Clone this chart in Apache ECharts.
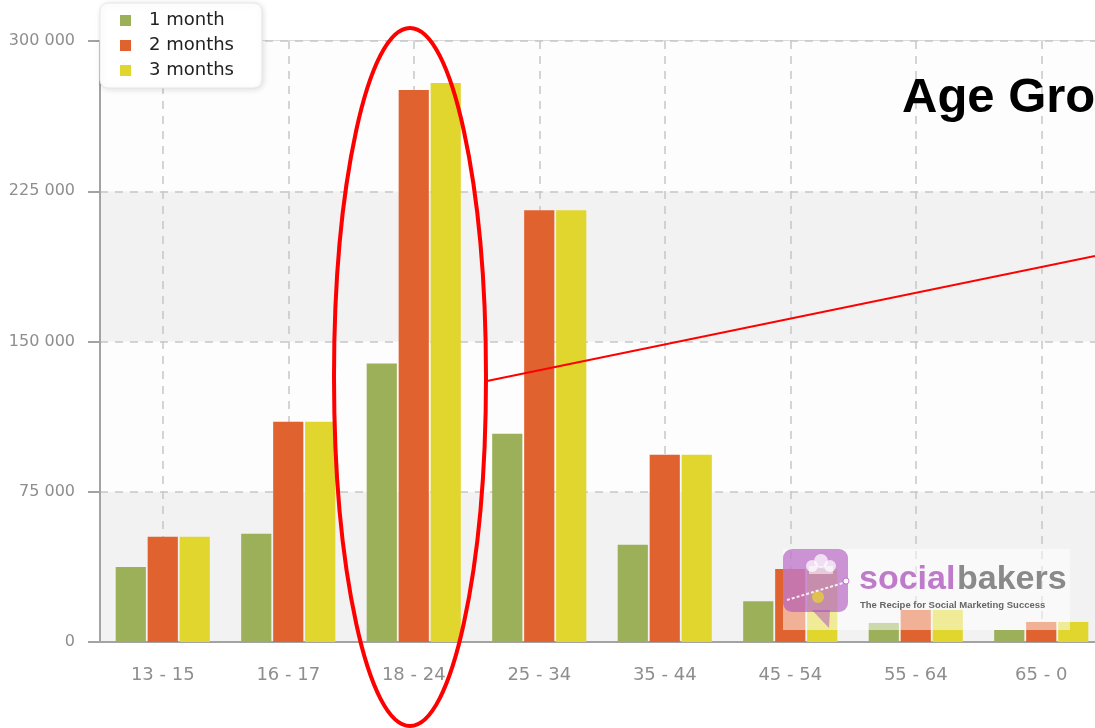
<!DOCTYPE html>
<html>
<head>
<meta charset="utf-8">
<script src="https://cdn.jsdelivr.net/npm/echarts@6/dist/echarts.min.js"></script>
<style>
  html, body { margin: 0; padding: 0; background: #fff; overflow: hidden; }
  #main { width: 1095px; height: 728px; }
</style>
</head>
<body>
<div id="main"></div>
<script>
var chartDom = document.getElementById('main');
var myChart = echarts.init(chartDom);
var option;

const ageGroups = ['13 - 15', '16 - 17', '18 - 24', '25 - 34', '35 - 44', '45 - 54', '55 - 64', '65 - 0'];
const oneMonth = [37500, 54000, 139000, 104000, 48500, 20300, 9500, 6000];
const twoMonths = [52500, 110000, 275500, 215500, 93500, 36400, 16000, 10000];
const threeMonths = [52500, 110000, 279000, 215500, 93500, 36400, 16000, 10000];
const yTicks = [0, 75000, 150000, 225000, 300000];

const green = '#9bb058';
const orange = '#e0622e';
const yellow = '#e0d62e';
const axisGrey = '#a3a3a3';
const labelGrey = '#8e8e8e';

function spaceThousands(v)
{
  return String(v).replace(/\B(?=(\d{3})+(?!\d))/g, ' ');
}

function barSeries(name, data, color)
{
  return {
    name: name,
    type: 'bar',
    data: data,
    barGap: '6%',
    barCategoryGap: '25%',
    itemStyle: { color: color }
  };
}

// socialbakers watermark pieces (decoration only)
const watermark = [
  { type: 'rect', z: 50, shape: { x: 783, y: 549, width: 287, height: 81 }, style: { fill: 'rgba(255,255,255,0.5)' } },
  { type: 'rect', z: 51, shape: { x: 783, y: 549, width: 65, height: 63, r: 9 }, style: { fill: 'rgba(172,78,186,0.6)' } },
  { type: 'polygon', z: 51, shape: { points: [[812, 610], [830, 610], [829, 628]] }, style: { fill: 'rgba(172,78,186,0.5)' } },
  // chef hat
  { type: 'circle', z: 52, shape: { cx: 812, cy: 566, r: 6 }, style: { fill: 'rgba(255,255,255,0.7)' } },
  { type: 'circle', z: 52, shape: { cx: 821, cy: 561, r: 7 }, style: { fill: 'rgba(255,255,255,0.7)' } },
  { type: 'circle', z: 52, shape: { cx: 830, cy: 566, r: 6 }, style: { fill: 'rgba(255,255,255,0.7)' } },
  { type: 'rect', z: 52, shape: { x: 809, y: 566, width: 24, height: 8 }, style: { fill: 'rgba(255,255,255,0.55)' } },
  { type: 'circle', z: 52, shape: { cx: 818, cy: 597, r: 6 }, style: { fill: 'rgba(230,205,60,0.8)' } },
  { type: 'line', z: 52, shape: { x1: 787, y1: 600, x2: 843, y2: 583 }, style: { stroke: 'rgba(255,255,255,0.85)', lineWidth: 2, lineDash: [3, 2] } },
  { type: 'circle', z: 52, shape: { cx: 846, cy: 581, r: 3 }, style: { fill: '#fff', stroke: 'rgba(172,78,186,0.7)', lineWidth: 1 } },
  {
    type: 'text', z: 52,
    style: { x: 859, y: 580, text: 'social', verticalAlign: 'middle',
      font: 'bold 34px "Liberation Sans"', fill: '#c07acb' }
  },
  {
    type: 'text', z: 52,
    style: { x: 957, y: 580, text: 'bakers', verticalAlign: 'middle',
      font: 'bold 34px "Liberation Sans"', fill: '#8a8a8a' }
  },
  {
    type: 'text', z: 52,
    style: { x: 860, y: 605, text: 'The Recipe for Social Marketing Success', verticalAlign: 'middle',
      font: 'bold 9.5px "Liberation Sans"', fill: '#666' }
  }
];

option = {
  animation: false,
  textStyle: { fontFamily: 'DejaVu Sans' },
  legend: {
    orient: 'vertical',
    left: 100,
    top: 3,
    padding: [8, 28, 8, 20],
    itemWidth: 11,
    itemHeight: 11,
    itemGap: 6,
    icon: 'rect',
    backgroundColor: '#fff',
    borderColor: '#e6e6e6',
    borderWidth: 1,
    borderRadius: 8,
    shadowBlur: 6,
    shadowColor: 'rgba(0,0,0,0.12)',
    shadowOffsetX: 1,
    shadowOffsetY: 1,
    textStyle: { fontSize: 18, color: '#222', padding: [0, 0, 0, 13], lineHeight: 19 },
    data: ['1 month', '2 months', '3 months']
  },
  grid: {
    left: 100,
    right: -9,
    top: 41,
    bottom: 86,
    outerBoundsMode: 'none',
    show: true,
    borderColor: '#dadada',
    borderWidth: 2
  },
  xAxis: {
    type: 'category',
    data: ageGroups,
    axisLine: { lineStyle: { color: axisGrey, width: 2 } },
    axisTick: { alignWithLabel: true, length: 10, lineStyle: { color: axisGrey, width: 2 } },
    axisLabel: { color: labelGrey, fontSize: 18, margin: 24 },
    splitLine: {
      show: true,
      alignWithLabel: true,
      lineStyle: { color: '#c6c6c6', type: [8, 7], width: 1.5 }
    }
  },
  yAxis: {
    type: 'value',
    min: yTicks[0],
    max: yTicks[yTicks.length - 1],
    interval: 75000,
    axisLine: { show: true, lineStyle: { color: axisGrey, width: 2 } },
    axisTick: { show: true, length: 12, lineStyle: { color: axisGrey, width: 2 } },
    axisLabel: { color: labelGrey, fontSize: 16, margin: 25, formatter: spaceThousands },
    splitLine: { lineStyle: { color: '#c6c6c6', type: [8, 7], width: 1.5 } },
    splitArea: { show: true, areaStyle: { color: ['#f2f2f2', '#fdfdfd'] } }
  },
  series: [
    barSeries('1 month', oneMonth, green),
    barSeries('2 months', twoMonths, orange),
    barSeries('3 months', threeMonths, yellow)
  ],
  graphic: watermark.concat([
    {
      type: 'ellipse',
      z: 100,
      shape: { cx: 410, cy: 377, rx: 76, ry: 349 },
      style: { fill: 'none', stroke: '#ff0000', lineWidth: 4 }
    },
    {
      type: 'line',
      z: 100,
      shape: { x1: 487, y1: 381, x2: 1095, y2: 256 },
      style: { stroke: '#ff0000', lineWidth: 2 }
    },
    {
      type: 'text',
      z: 100,
      style: {
        x: 902, y: 98, text: 'Age Groups',
        verticalAlign: 'middle',
        font: 'bold 49px "Liberation Sans"', fill: '#000'
      }
    }
  ])
};

option && myChart.setOption(option);
</script>
</body>
</html>
